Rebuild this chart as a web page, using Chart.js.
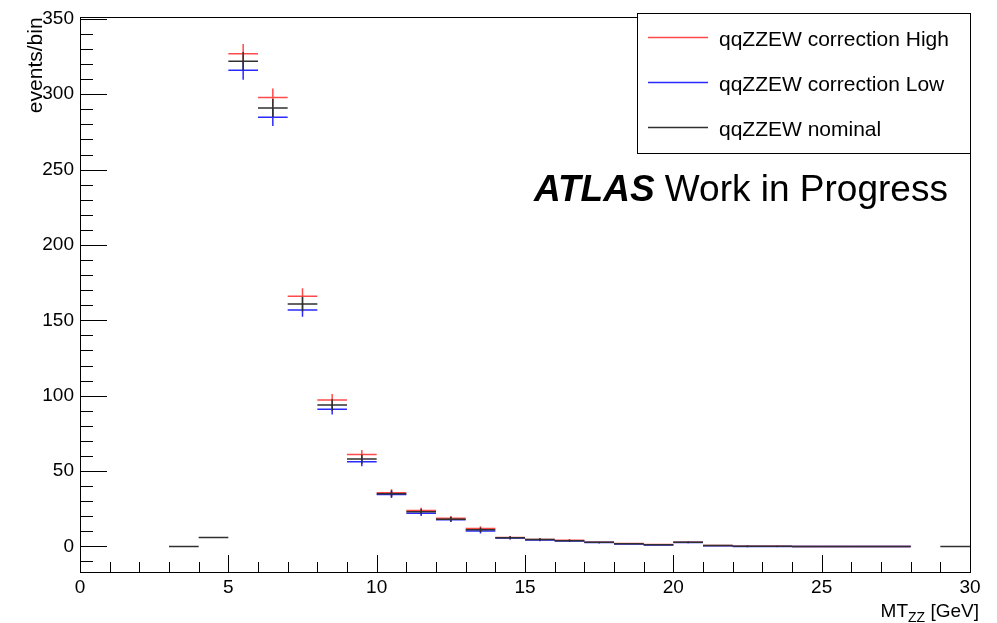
<!DOCTYPE html>
<html>
<head>
<meta charset="utf-8">
<script src="https://cdn.jsdelivr.net/npm/chart.js@4.4.1/dist/chart.umd.min.js"></script>
<style>
  html, body { margin: 0; padding: 0; background: #fff; }
  #wrap { width: 997px; height: 623px; position: relative; }
</style>
</head>
<body>
<div id="wrap"><canvas id="histo"></canvas></div>
<script>
// histogram bins (lower edge, width 1 GeV)
const binLow = [3, 4, 5, 6, 7, 8, 9, 10, 11, 12, 13, 14, 15, 16, 17, 18, 19, 20, 21, 22, 23, 24, 25, 26, 27, 28, 29];
const binWidth = 1;

const seriesNames = ["qqZZEW correction High", "qqZZEW correction Low", "qqZZEW nominal"];

const valHigh = [null, null, 326.9, 297.9, 166.0, 97.1, 60.9, 35.6, 23.8, 18.6, 11.8, 5.9, 4.6, 4.1, 2.8, 1.9, 1.2, 2.8, 0.6, 0.1, 0.1, 0, 0, 0, 0, null, null];
const valLow = [null, null, 315.9, 284.7, 156.8, 91.0, 56.1, 34.4, 22.0, 17.6, 10.2, 5.6, 4.3, 3.6, 2.5, 1.6, 0.9, 2.5, 0.5, 0, 0, 0, 0, 0, 0, null, null];
const valNominal = [0, 5.9, 321.9, 290.9, 160.8, 93.8, 57.9, 35.0, 23.0, 18.0, 11.0, 5.8, 4.5, 3.8, 2.7, 1.8, 1.0, 2.8, 0.6, 0.1, 0.1, 0, 0, 0, 0, null, 0];

const errHigh = [null, null, 6.4, 6.0, 5.3, 4.0, 3.0, 2.3, 1.9, 1.6, 1.6, 1.0, 0.9, 0.8, 0.6, 0.5, 0.4, 0.6, 0.3, 0.2, 0.6, 0, 0, 0, 0, null, null];
const errLow = [null, null, 6.3, 5.8, 4.4, 3.5, 2.9, 2.3, 1.8, 1.5, 1.6, 1.0, 0.9, 0.7, 0.6, 0.5, 0.4, 0.6, 0.3, 0.2, 0.2, 0, 0, 0, 0, null, null];
const errNominal = [0, 0.4, 6.2, 6.0, 4.8, 3.8, 3.0, 2.3, 1.9, 1.6, 1.6, 1.0, 0.9, 0.8, 0.6, 0.5, 0.4, 0.6, 0.3, 0.6, 0.2, 0, 0, 0, 0, null, 0];

const xTicks = [0, 5, 10, 15, 20, 25, 30];
const yTicks = [0, 50, 100, 150, 200, 250, 300, 350];

const seriesColors = ["#ff4a4a", "#2a2aff", "#303030"];
const textFont = "'Liberation Sans', Arial, sans-serif";

// build a step path: flat segment per bin + vertical error bar, null breaks between
function histoPoints(values, errors) {
  const pts = [];
  binLow.forEach((lo, i) => {
    const v = values[i];
    if (v === null) return;
    const c = lo + binWidth / 2;
    pts.push({ x: lo, y: v }, { x: lo + binWidth, y: v }, { x: c, y: null });
    const e = errors[i] || 0;
    if (e > 0) pts.push({ x: c, y: v - e }, { x: c, y: v + e }, { x: c, y: null });
  });
  return pts;
}

function makeDataset(name, values, errors, color, order) {
  return {
    label: name,
    data: histoPoints(values, errors),
    borderColor: color,
    borderWidth: 1.5,
    pointRadius: 0,
    spanGaps: false,
    tension: 0,
    fill: false,
    order: order
  };
}

// ROOT-like frame, inner ticks, titles and legend
const rootStyle = {
  id: "rootStyle",
  afterDatasetsDraw(chart) {
    const { ctx, chartArea: a, scales } = chart;
    const xs = scales.x, ys = scales.y;
    ctx.save();
    ctx.strokeStyle = "#000";
    ctx.lineWidth = 1;
    ctx.strokeRect(Math.round(a.left) + 0.5, Math.round(a.top) + 0.5, Math.round(a.right - a.left), Math.round(a.bottom - a.top));

    // y ticks (inside, from left axis)
    ctx.beginPath();
    for (let v = -10; v <= ys.max; v += 10) {
      const py = Math.round(ys.getPixelForValue(v)) + 0.5;
      const len = (v % 50 === 0) ? 27 : 13;
      ctx.moveTo(a.left, py);
      ctx.lineTo(a.left + len, py);
    }
    // x ticks (inside, up from bottom axis)
    for (let v = xs.min; v <= xs.max; v += 1) {
      const px = Math.round(xs.getPixelForValue(v)) + 0.5;
      const len = (v % 5 === 0) ? 17 : 10;
      ctx.moveTo(px, a.bottom);
      ctx.lineTo(px, a.bottom - len);
    }
    ctx.stroke();

    ctx.fillStyle = "#000";
    // y title
    ctx.save();
    ctx.translate(42, a.top);
    ctx.rotate(-Math.PI / 2);
    ctx.font = "21px " + textFont;
    ctx.textAlign = "right";
    ctx.textBaseline = "alphabetic";
    ctx.fillText("events/bin", 0, 0);
    ctx.restore();

    // x title with subscript
    const base = 617;
    ctx.textBaseline = "alphabetic";
    ctx.textAlign = "left";
    ctx.font = "19px " + textFont;
    const wMT = ctx.measureText("MT").width;
    const wRest = ctx.measureText(" [GeV]").width;
    ctx.font = "14px " + textFont;
    const wSub = ctx.measureText("ZZ").width;
    let tx = 979 - (wMT + wSub + wRest);
    ctx.font = "19px " + textFont;
    ctx.fillText("MT", tx, base);
    tx += wMT;
    ctx.font = "14px " + textFont;
    ctx.fillText("ZZ", tx, base + 5);
    tx += wSub;
    ctx.font = "19px " + textFont;
    ctx.fillText(" [GeV]", tx, base);

    // ATLAS label
    ctx.font = "italic bold 37px " + textFont;
    ctx.fillText("ATLAS", 534, 201);
    const wAtlas = ctx.measureText("ATLAS ").width;
    ctx.font = "37px " + textFont;
    ctx.fillText("Work in Progress", 534 + wAtlas, 201);

    // legend box
    const lx = 637, ly = 13, lw = 333, lh = 140;
    ctx.fillStyle = "#fff";
    ctx.fillRect(lx, ly, lw, lh);
    ctx.strokeStyle = "#000";
    ctx.lineWidth = 1;
    ctx.strokeRect(lx + 0.5, ly + 0.5, lw, lh);
    ctx.font = "21px " + textFont;
    seriesNames.forEach((name, i) => {
      const ry = 37 + i * 45;
      ctx.strokeStyle = seriesColors[i];
      ctx.lineWidth = 1.3;
      ctx.beginPath();
      ctx.moveTo(648, ry + 0.5);
      ctx.lineTo(708, ry + 0.5);
      ctx.stroke();
      ctx.fillStyle = "#000";
      ctx.fillText(name, 719, ry + 9);
    });
    ctx.restore();
  }
};

new Chart(document.getElementById("histo"), {
  type: "line",
  data: {
    datasets: [
      makeDataset(seriesNames[0], valHigh, errHigh, seriesColors[0], 3),
      makeDataset(seriesNames[1], valLow, errLow, seriesColors[1], 2),
      makeDataset(seriesNames[2], valNominal, errNominal, seriesColors[2], 1)
    ]
  },
  options: {
    responsive: true,
    maintainAspectRatio: false,
    animation: false,
    layout: { padding: { left: 0, top: 13, right: 27, bottom: 0 } },
    plugins: {
      legend: { display: false },
      tooltip: { enabled: false }
    },
    scales: {
      x: {
        type: "linear",
        min: 0,
        max: 30,
        afterBuildTicks: (scale) => { scale.ticks = xTicks.map(v => ({ value: v })); },
        afterFit: (scale) => { scale.height = 51; },
        grid: { display: false, drawTicks: false, tickLength: 0 },
        border: { display: false },
        ticks: {
          color: "#000",
          padding: 4,
          maxRotation: 0,
          autoSkip: false,
          font: { family: textFont, size: 19 }
        }
      },
      y: {
        type: "linear",
        min: -17,
        max: 351,
        afterBuildTicks: (scale) => { scale.ticks = yTicks.map(v => ({ value: v })); },
        afterFit: (scale) => { scale.width = 80; },
        grid: { display: false, drawTicks: false, tickLength: 0 },
        border: { display: false },
        ticks: {
          color: "#000",
          padding: 6,
          font: { family: textFont, size: 19 }
        }
      }
    }
  },
  plugins: [rootStyle]
});
</script>
</body>
</html>
